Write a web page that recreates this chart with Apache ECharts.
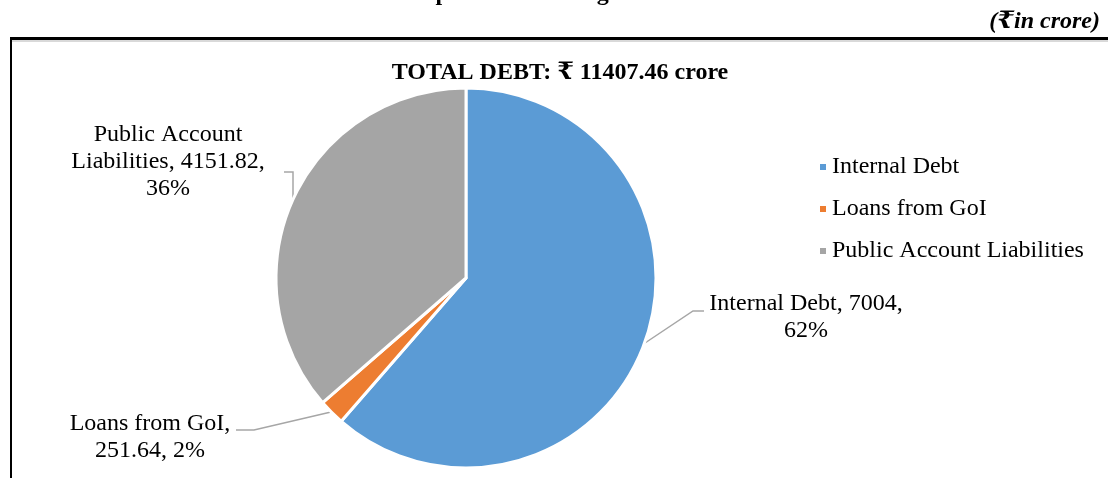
<!DOCTYPE html>
<html>
<head>
<meta charset="utf-8">
<script src="https://cdn.jsdelivr.net/npm/echarts@6/dist/echarts.min.js"></script>
<style>
  html, body { margin: 0; padding: 0; background: #fff; }
  #main { width: 1108px; height: 481px; }
</style>
</head>
<body>
<div id="main"></div>
<script>
var categories = ['Internal Debt', 'Loans from GoI', 'Public Account Liabilities'];
var amounts = [7004, 251.64, 4151.82];
var shares = [62, 2, 36];
var colors = ['#5B9BD5', '#ED7D31', '#A5A5A5'];

var serif = '"Liberation Serif", "Times New Roman", "DejaVu Serif", serif';

var dom = document.getElementById('main');
var myChart = echarts.init(dom, null, { renderer: 'canvas' });

// where each data label sits (centre of text block) and its leader line
var labelSpots = [
    { x: 806, y: 317, line: [[645, 343], [693, 311], [704, 311]] },
    { x: 150, y: 437, line: [[331, 412], [254, 430], [236, 430]] },
    { x: 168, y: 162, line: [[293, 198], [293, 172], [284, 172]] }
];

var pieData = categories.map(function (name, i) {
    return { name: name, value: amounts[i], share: shares[i] };
});

var option = {
    animation: false,
    color: colors,
    graphic: [
        {
            type: 'text', x: 562, y: -18,
            style: { text: 'Chart 1.3: Break-up of Outstanding Debt at the end of 2021-22', font: 'bold 24px ' + serif, fill: '#000', align: 'center' }
        },
        {
            type: 'text', right: 8, top: 10,
            style: { text: '(₹in crore)', font: 'italic bold 24px ' + serif, fill: '#000' }
        },
        { type: 'rect', shape: { x: 10, y: 37, width: 1098, height: 3 }, style: { fill: '#000' } },
        { type: 'rect', shape: { x: 12, y: 40, width: 1096, height: 2 }, style: { fill: '#d9d9d9' } },
        { type: 'rect', shape: { x: 10, y: 37, width: 2, height: 441 }, style: { fill: '#000' } },
        {
            type: 'text', x: 560, y: 61,
            style: { text: 'TOTAL DEBT: ₹ 11407.46 crore', font: 'bold 24px ' + serif, fill: '#000', align: 'center' }
        }
    ],
    legend: {
        orient: 'vertical',
        left: 818,
        top: 155,
        padding: 0,
        itemWidth: 8,
        itemHeight: 8,
        itemGap: 18,
        icon: 'rect',
        textStyle: { fontFamily: serif, fontSize: 24, color: '#000' },
        data: categories
    },
    series: [
        {
            type: 'pie',
            center: [466, 278],
            radius: 190,
            startAngle: 90,
            clockwise: true,
            itemStyle: { borderColor: '#fff', borderWidth: 3 },
            label: {
                show: true,
                position: 'outside',
                fontFamily: serif,
                fontSize: 24,
                lineHeight: 27,
                color: '#000',
                align: 'center',
                formatter: function (p) {
                    var amt = p.value;
                    if (p.dataIndex === 0) return p.name + ', ' + amt + ',\n' + p.data.share + '%';
                    if (p.dataIndex === 1) return 'Loans from GoI,\n' + amt + ', ' + p.data.share + '%';
                    return 'Public Account\nLiabilities, ' + amt + ',\n' + p.data.share + '%';
                }
            },
            labelLine: {
                show: true,
                lineStyle: { color: '#a6a6a6', width: 1.5 }
            },
            labelLayout: function (params) {
                var s = labelSpots[params.dataIndex];
                return {
                    x: s.x,
                    y: s.y,
                    align: 'center',
                    verticalAlign: 'middle',
                    labelLinePoints: s.line
                };
            },
            emphasis: { disabled: true },
            data: pieData
        }
    ]
};

myChart.setOption(option);
window.addEventListener('resize', myChart.resize);
</script>
</body>
</html>
